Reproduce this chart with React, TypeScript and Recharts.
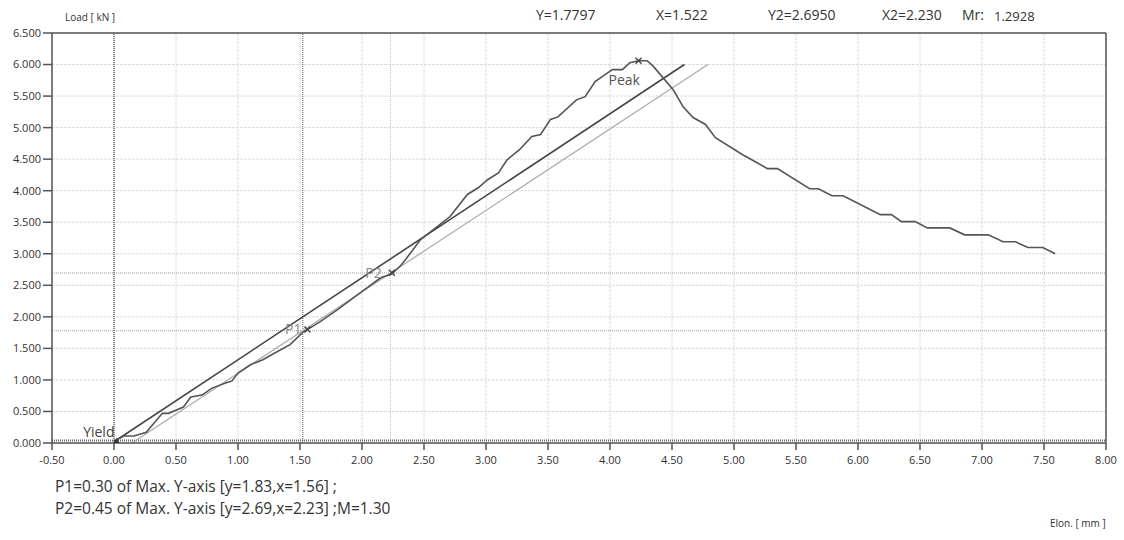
import React from "react";
import {
  LineChart,
  Line,
  XAxis,
  YAxis,
  CartesianGrid,
  ReferenceLine,
  ReferenceDot,
} from "recharts";

// measured load / elongation curve
const elon = [
  0.0, 0.08, 0.16, 0.26, 0.39, 0.44, 0.56, 0.62, 0.71, 0.79, 0.9, 0.95, 1.0,
  1.1, 1.2, 1.3, 1.42, 1.52, 1.66, 1.8, 1.93, 2.04, 2.15, 2.24, 2.32, 2.41,
  2.47, 2.71, 2.85, 2.94, 3.01, 3.1, 3.17, 3.27, 3.37, 3.44, 3.52, 3.58, 3.73,
  3.8, 3.88, 3.96, 4.02, 4.1, 4.16, 4.23, 4.3, 4.35, 4.51, 4.59, 4.67, 4.77,
  4.85, 5.07, 5.19, 5.27, 5.35, 5.61, 5.68, 5.79, 5.88, 6.07, 6.18, 6.27, 6.35,
  6.46, 6.56, 6.74, 6.86, 7.05, 7.17, 7.27, 7.37, 7.49, 7.59,
];
const load = [
  0.03, 0.11, 0.11, 0.17, 0.47, 0.47, 0.57, 0.73, 0.76, 0.87, 0.95, 0.98, 1.11,
  1.24, 1.32, 1.43, 1.56, 1.75, 1.92, 2.11, 2.3, 2.46, 2.62, 2.68, 2.83, 3.06,
  3.22, 3.59, 3.94, 4.05, 4.17, 4.28, 4.49, 4.65, 4.86, 4.89, 5.13, 5.17, 5.44,
  5.49, 5.73, 5.84, 5.92, 5.92, 6.03, 6.06, 6.06, 5.97, 5.6, 5.33, 5.16, 5.05,
  4.84, 4.57, 4.44, 4.35, 4.35, 4.03, 4.03, 3.92, 3.92, 3.73, 3.62, 3.62, 3.51,
  3.51, 3.41, 3.41, 3.3, 3.3, 3.19, 3.19, 3.1, 3.1, 3.0,
];

// fitted lines (start / end points)
const fitX = [0.0, 4.6];
const fitY = [0.02, 6.0];
const slopeX = [0.145, 4.79];
const slopeY = [0.0, 6.0];

const xTicks = [
  -0.5, 0, 0.5, 1, 1.5, 2, 2.5, 3, 3.5, 4, 4.5, 5, 5.5, 6, 6.5, 7, 7.5, 8,
];
const yTicks = [0, 0.5, 1, 1.5, 2, 2.5, 3, 3.5, 4, 4.5, 5, 5.5, 6, 6.5];

const p1 = { x: 1.56, y: 1.8 };
const p2 = { x: 2.24, y: 2.7 };
const peak = { x: 4.23, y: 6.06 };
const yieldPt = { x: 0.02, y: 0.03 };

const cursor = { y1: 1.7797, x1: 1.522, y2: 2.695, x2: 2.23, mr: 1.2928 };

const curve = elon.map((x, i) => ({ x, y: load[i] }));
const fitLine = fitX.map((x, i) => ({ x, y: fitY[i] }));
const slopeLine = slopeX.map((x, i) => ({ x, y: slopeY[i] }));

const FONT = "'Open Sans', sans-serif";

const cross = (label: string, dx: number, dy: number, anchor: string, color: string, size: number) =>
  (p: any) => (
    <g>
      <path
        d={`M${p.cx - 3},${p.cy - 3}L${p.cx + 3},${p.cy + 3}M${p.cx - 3},${p.cy + 3}L${p.cx + 3},${p.cy - 3}`}
        stroke="#444"
        strokeWidth={1.4}
      />
      <text
        x={p.cx + dx}
        y={p.cy + dy}
        textAnchor={anchor}
        fontSize={size}
        fill={color}
        fontFamily={FONT}
      >
        {label}
      </text>
    </g>
  );

const tri = (p: any) => (
  <g>
    <path d={`M${p.cx - 3},${p.cy + 2}L${p.cx + 3},${p.cy + 2}L${p.cx},${p.cy - 3}Z`} fill="#333" />
    <text x={p.cx - 2} y={p.cy - 4} textAnchor="end" fontSize={14} fill="#444" fontFamily={FONT}>
      Yield
    </text>
  </g>
);

const txt = (left: number, top: number, size: number, s: string) => (
  <div
    style={{
      position: "absolute",
      left,
      top,
      fontSize: size,
      fontFamily: FONT,
      color: "#333",
      whiteSpace: "nowrap",
      lineHeight: 1,
    }}
  >
    {s}
  </div>
);

export default function App() {
  return (
    <div style={{ position: "absolute", left: 0, top: 0, width: 1124, height: 540, background: "#fff" }}>
      <LineChart width={1124} height={540} margin={{ top: 33, right: 18, left: 0, bottom: 67 }}>
        <CartesianGrid stroke="#dcdcdc" strokeDasharray="3 1" horizontalValues={yTicks} verticalValues={xTicks} />
        <XAxis
          type="number"
          dataKey="x"
          domain={[-0.5, 8]}
          ticks={xTicks}
          allowDataOverflow
          tickFormatter={(v: number) => v.toFixed(2)}
          tick={{ fontSize: 11, fill: "#333", fontFamily: FONT }}
          tickSize={7}
          tickMargin={6}
          axisLine={{ stroke: "#555", strokeWidth: 1.5 }}
          tickLine={{ stroke: "#555", strokeWidth: 1.5 }}
          height={30}
        />
        <YAxis
          type="number"
          domain={[0, 6.5]}
          ticks={yTicks}
          allowDataOverflow
          tickFormatter={(v: number) => v.toFixed(3)}
          tick={{ fontSize: 11, fill: "#333", fontFamily: FONT }}
          tickSize={9}
          tickMargin={2}
          axisLine={{ stroke: "#555", strokeWidth: 1.5 }}
          tickLine={{ stroke: "#555", strokeWidth: 1.5 }}
          width={52}
        />
        <ReferenceLine y={6.5} stroke="#555" strokeWidth={1.5} />
        <ReferenceLine x={8} stroke="#555" strokeWidth={1.5} />
        <ReferenceLine x={0} stroke="#666" strokeWidth={1.5} strokeDasharray="1 1" />
        <ReferenceLine x={cursor.x1} stroke="#888" strokeWidth={1.5} strokeDasharray="1 1" />
        <ReferenceLine x={cursor.x2} stroke="#c4c4c4" strokeWidth={1} strokeDasharray="1 1" />
        <ReferenceLine y={cursor.y1} stroke="#999" strokeWidth={1} strokeDasharray="1 1" />
        <ReferenceLine y={cursor.y2} stroke="#999" strokeWidth={1} strokeDasharray="1 1" />
        <ReferenceLine y={0.04} stroke="#666" strokeWidth={2} strokeDasharray="1 1" />
        <Line
          data={slopeLine}
          dataKey="y"
          type="linear"
          stroke="#aaa"
          strokeWidth={1.2}
          dot={false}
          isAnimationActive={false}
        />
        <Line
          data={fitLine}
          dataKey="y"
          type="linear"
          stroke="#444"
          strokeWidth={1.6}
          dot={false}
          isAnimationActive={false}
        />
        <Line
          data={curve}
          dataKey="y"
          type="linear"
          stroke="#555"
          strokeWidth={1.6}
          dot={false}
          isAnimationActive={false}
        />
        <ReferenceDot x={p1.x} y={p1.y} shape={cross("P1", -6, 5, "end", "#888", 14)} />
        <ReferenceDot x={p2.x} y={p2.y} shape={cross("P2", -10, 5, "end", "#888", 14)} />
        <ReferenceDot x={peak.x} y={peak.y} shape={cross("Peak", -30, 24, "start", "#555", 14)} />
        <ReferenceDot x={yieldPt.x} y={yieldPt.y} shape={tri} />
      </LineChart>
      {txt(65, 12, 10, "Load [ kN ]")}
      {txt(536, 8, 14, `Y=${cursor.y1.toFixed(4)}`)}
      {txt(656, 8, 14, `X=${cursor.x1.toFixed(3)}`)}
      {txt(768, 8, 14, `Y2=${cursor.y2.toFixed(4)}`)}
      {txt(882, 8, 14, `X2=${cursor.x2.toFixed(3)}`)}
      {txt(962, 8, 14, "Mr:")}
      {txt(994, 10, 13, cursor.mr.toFixed(4))}
      {txt(55, 479, 15.5, "P1=0.30 of Max. Y-axis [y=1.83,x=1.56] ;")}
      {txt(55, 501, 15.5, "P2=0.45 of Max. Y-axis [y=2.69,x=2.23] ;M=1.30")}
      {txt(1050, 518, 10, "Elon. [ mm ]")}
    </div>
  );
}
